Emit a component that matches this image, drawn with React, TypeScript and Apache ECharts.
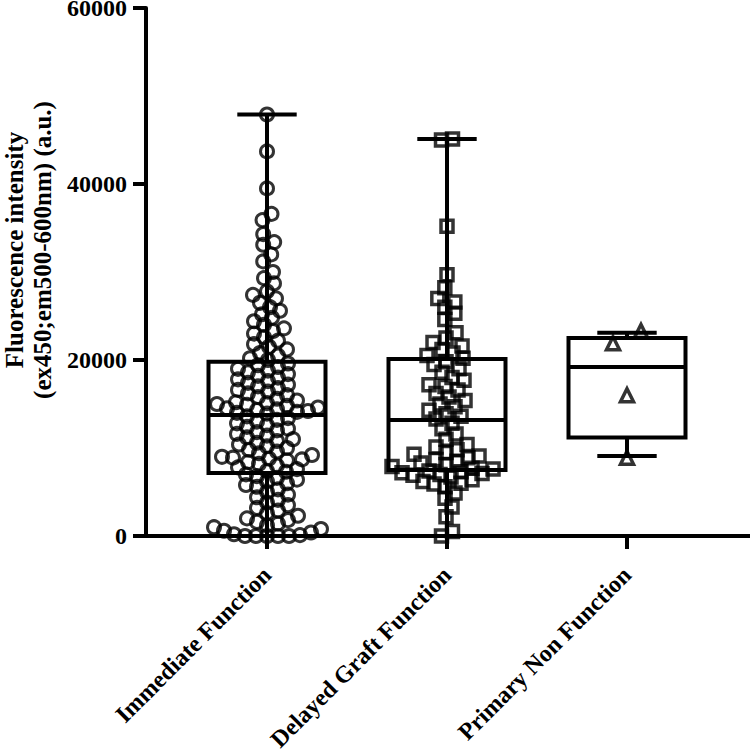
import React, { useEffect, useRef } from "react";
import * as echarts from "echarts";

const categories = ["Immediate Function", "Delayed Graft Function", "Primary Non Function"];

const immediateValues = [
  47900, 43700, 39500, 36600, 35900, 34300, 33400, 33100, 32000, 31200, 30000, 29300, 28700, 27800, 27400,
  27000, 26500, 26000, 25600, 25200, 24800, 24400, 24000, 23600, 23300, 23000, 22600, 22200, 21800, 21500,
  21200, 20800, 20500, 20200, 20000,
  19600, 19400, 19200, 19000, 18800, 18600, 18400, 18200, 18000, 17800, 17600, 17400, 17200, 17000, 16800,
  16600, 16400, 16200, 16000, 15800, 15600, 15400, 15200, 15100, 15000, 14900, 14800, 14600, 14500, 14400,
  14300, 14200, 14100, 14000, 13900,
  13600, 13400, 13200, 13000, 12800, 12600, 12400, 12200, 12000, 11800, 11600, 11400, 11200, 11000, 10800,
  10600, 10400, 10200, 10000, 9800, 9600, 9400, 9200, 9000, 8900, 8800, 8700, 8600, 8400, 8200, 8000, 7800,
  7600, 7400, 7300,
  7000, 6800, 6600, 6400, 6200, 6000, 5800, 5600, 5300, 5000, 4700, 4400, 4100, 3800, 3500, 3200, 2900,
  2600, 2300, 2000, 1800, 1600, 1400, 1200, 1000, 800, 600, 400, 200, 100, 0, 0, 0, 0, 0,
];

const delayedValues = [
  45100, 45000, 35200, 29700, 28200, 27000, 26600, 26000, 25300, 24600, 23100, 22500, 22000, 21600, 21200,
  20800, 20500, 20200,
  19800, 19500, 19000, 18600, 18000, 17700, 17200, 17000, 16600, 16200, 15800, 15400, 15000, 14700, 14300,
  13900, 13600, 13300,
  12800, 12200, 11600, 11000, 10400, 10100, 9800, 9500, 9300, 9100, 8900, 8700, 8500, 8300, 8100, 7900,
  7700, 7600,
  7400, 7300, 7200, 7100, 7000, 6900, 6700, 6400, 6200, 6000, 5900, 5600, 4900, 4300, 3300, 2200, 500, 0,
];

const primaryValues = [23300, 21900, 16000, 8900];

// [min, Q1, median, Q3, max] per category
const boxStats = [
  [0, 7160, 13750, 19800, 47900],
  [0, 7500, 13180, 20100, 45100],
  [9100, 11200, 19200, 22500, 23100],
];

const yTicks = [0, 20000, 40000, 60000];

// layout constants (pixels)
const PLOT_H = 528;
const Y_MAX = 60000;
const X_UNIT_PX = 180;
const PX_PER_VALUE = PLOT_H / Y_MAX;

function swarmOffsets(values: number[], minDist: number): number[] {
  const order = values.map((v, i) => ({ v, i })).sort((a, b) => a.v - b.v);
  const placed: { x: number; y: number; i: number }[] = [];
  const res: number[] = new Array(values.length).fill(0);
  for (const { v, i } of order) {
    const y = v * PX_PER_VALUE;
    let best = 0;
    for (let k = 0; k < 400; k++) {
      const step = Math.ceil(k / 2);
      const cand = k === 0 ? 0 : k % 2 === 1 ? step : -step;
      let ok = true;
      for (const p of placed) {
        const dx = p.x - cand;
        const dy = p.y - y;
        if (dx * dx + dy * dy < minDist * minDist) {
          ok = false;
          break;
        }
      }
      if (ok) {
        best = cand;
        break;
      }
    }
    placed.push({ x: best, y, i });
    res[i] = best;
  }
  // centre each connected cluster of points about the category centre
  let start = 0;
  for (let j = 1; j <= placed.length; j++) {
    if (j === placed.length || placed[j].y - placed[j - 1].y >= minDist) {
      const cl = placed.slice(start, j);
      const mean = cl.reduce((s, p) => s + p.x, 0) / cl.length;
      for (const p of cl) res[p.i] = p.x - mean;
      start = j;
    }
  }
  return res;
}

function toPoints(values: number[], groupIndex: number, minDist: number) {
  const offs = swarmOffsets(values, minDist);
  return values.map((v, i) => [groupIndex + offs[i] / X_UNIT_PX, v]);
}

const FONT = "'Liberation Serif', 'Times New Roman', serif";

export default function App() {
  const ref = useRef<HTMLDivElement>(null);
  useEffect(() => {
    if (!ref.current) return;
    const chart = echarts.init(ref.current, null, { renderer: "svg" });
    const boxData = boxStats.map((s, i) => [i, ...s]);
    const option: any = {
      animation: false,
      backgroundColor: "#ffffff",
      grid: { left: 146, top: 8, right: 0, bottom: 217, containLabel: false, outerBoundsMode: "none" },
      xAxis: {
        type: "value",
        min: (146 - 267) / X_UNIT_PX,
        max: (750 - 267) / X_UNIT_PX,
        axisLine: { show: true, onZero: false, lineStyle: { color: "#000", width: 4 } },
        axisTick: {
          show: true,
          customValues: [0, 1, 2],
          length: 13,
          lineStyle: { color: "#000", width: 4 },
        },
        axisLabel: {
          show: true,
          customValues: [0, 1, 2],
          formatter: (v: number) => categories[Math.round(v)] ?? "",
          rotate: 45,
          margin: 35,
          color: "#000",
          fontFamily: FONT,
          fontWeight: "bold",
          fontSize: 24,
        },
        splitLine: { show: false },
      },
      yAxis: {
        type: "value",
        min: 0,
        max: 60000,
        interval: 20000,
        name: "Fluorescence intensity\n(ex450;em500-600nm) (a.u.)",
        nameLocation: "middle",
        nameGap: 89,
        nameTextStyle: {
          color: "#000",
          fontFamily: FONT,
          fontWeight: "bold",
          fontSize: 25,
          lineHeight: 28,
          padding: [0, 0, 0, 44],
        },
        axisLine: { show: true, onZero: false, lineStyle: { color: "#000", width: 4 } },
        axisTick: { show: true, length: 13, lineStyle: { color: "#000", width: 4 } },
        axisLabel: {
          color: "#000",
          fontFamily: FONT,
          fontWeight: "bold",
          fontSize: 24,
          margin: 19,
          formatter: (v: number) => (yTicks.includes(v) ? String(v) : ""),
        },
        splitLine: { show: false },
      },
      series: [
        {
          type: "custom",
          data: boxData,
          encode: { x: 0, y: [1, 2, 3, 4, 5] },
          z: 3,
          renderItem: (params: any, api: any) => {
            const x = api.value(0);
            const mn = api.coord([x, api.value(1)]);
            const q1 = api.coord([x, api.value(2)]);
            const md = api.coord([x, api.value(3)]);
            const q3 = api.coord([x, api.value(4)]);
            const mx = api.coord([x, api.value(5)]);
            const bw = api.size([0.65, 0])[0];
            const cw = api.size([0.33, 0])[0];
            const cx = mn[0];
            const st = { stroke: "#000", lineWidth: 4, fill: "none" };
            return {
              type: "group",
              children: [
                { type: "rect", shape: { x: cx - bw / 2, y: q3[1], width: bw, height: q1[1] - q3[1] }, style: { ...st } },
                { type: "line", shape: { x1: cx - bw / 2, y1: md[1], x2: cx + bw / 2, y2: md[1] }, style: { ...st } },
                { type: "line", shape: { x1: cx, y1: q3[1], x2: cx, y2: mx[1] }, style: { ...st } },
                { type: "line", shape: { x1: cx, y1: q1[1], x2: cx, y2: mn[1] }, style: { ...st } },
                { type: "line", shape: { x1: cx - cw / 2, y1: mx[1], x2: cx + cw / 2, y2: mx[1] }, style: { ...st } },
                { type: "line", shape: { x1: cx - cw / 2, y1: mn[1], x2: cx + cw / 2, y2: mn[1] }, style: { ...st } },
              ],
            };
          },
        },
        {
          type: "scatter",
          name: categories[0],
          data: toPoints(immediateValues, 0, 10.5),
          symbol: "circle",
          symbolSize: 13,
          itemStyle: { color: "rgba(0,0,0,0)", borderColor: "#000", borderWidth: 3 },
          z: 4,
        },
        {
          type: "scatter",
          name: categories[1],
          data: toPoints(delayedValues, 1, 11),
          symbol: "rect",
          symbolSize: 12,
          itemStyle: { color: "rgba(0,0,0,0)", borderColor: "#000", borderWidth: 3.5 },
          z: 4,
        },
        {
          type: "scatter",
          name: categories[2],
          data: toPoints(primaryValues, 2, 30),
          symbol: "triangle",
          symbolSize: 13,
          itemStyle: { color: "rgba(0,0,0,0)", borderColor: "#000", borderWidth: 3.5 },
          z: 4,
        },
      ],
    };
    chart.setOption(option);
    return () => chart.dispose();
  }, []);
  return (
    <div
      ref={ref}
      style={{ position: "fixed", left: 0, top: 0, width: 750, height: 753, background: "#fff" }}
    />
  );
}
